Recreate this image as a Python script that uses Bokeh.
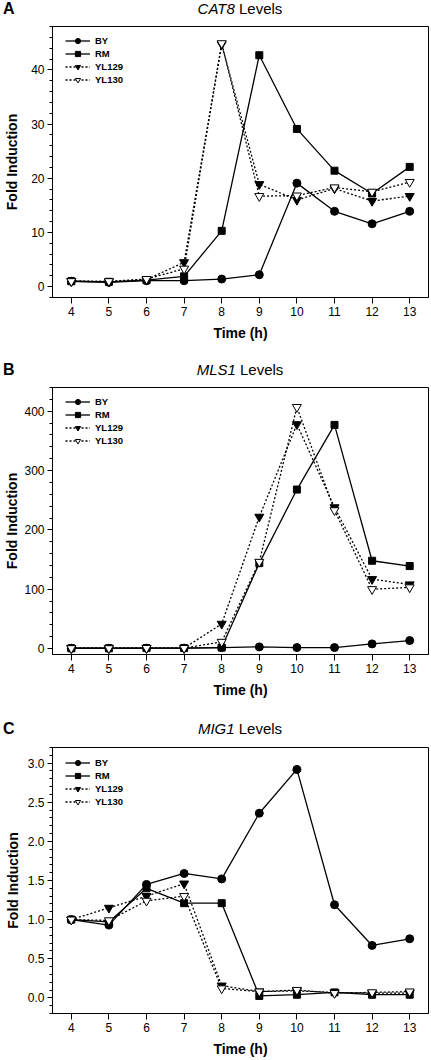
from bokeh.plotting import figure
from bokeh.models import Range1d, SingleIntervalTicker, FixedTicker, NumeralTickFormatter, Div
from bokeh.layouts import column
from bokeh.embed import file_html
from bokeh.resources import INLINE

# ---------------- data ----------------
hours = [4, 5, 6, 7, 8, 9, 10, 11, 12, 13]
strains = ["BY", "RM", "YL129", "YL130"]

cat8_by = [1.0, 0.8, 1.1, 1.1, 1.4, 2.2, 19.1, 13.9, 11.6, 13.9]
cat8_rm = [1.0, 0.9, 1.2, 1.9, 10.3, 42.7, 29.1, 21.4, 17.2, 22.1]
cat8_yl129 = [1.0, 0.9, 1.3, 4.5, 44.7, 18.9, 16.0, 18.1, 15.8, 16.7]
cat8_yl130 = [1.0, 1.0, 1.4, 3.3, 44.9, 16.7, 16.8, 18.3, 17.5, 19.3]

mls1_by = [0.5, 0.5, 0.8, 0.8, 1.7, 2.8, 1.7, 1.7, 7.9, 13.5]
mls1_rm = [0.5, 0.5, 0.8, 0.8, 1.7, 144, 268, 377, 148, 139]
mls1_yl129 = [0.5, 0.5, 0.8, 0.8, 41.6, 222, 378, 238, 117, 108]
mls1_yl130 = [0.5, 0.5, 0.8, 0.8, 11.2, 146, 407, 233, 100, 103]

mig1_by = [1.0, 0.93, 1.45, 1.59, 1.52, 2.36, 2.92, 1.19, 0.67, 0.755]
mig1_rm = [1.0, 0.97, 1.40, 1.21, 1.21, 0.025, 0.04, 0.07, 0.04, 0.04]
mig1_yl129 = [1.0, 1.15, 1.30, 1.46, 0.156, 0.08, 0.09, 0.07, 0.06, 0.06]
mig1_yl130 = [1.0, 0.99, 1.24, 1.30, 0.12, 0.08, 0.10, 0.06, 0.07, 0.08]

FONT = "Liberation Sans"
MBL = 52
MBR = 3
W = 431


def header(letter, gene, height):
    html = (
        f'<div style="position:relative;width:{W}px;height:{height}px;'
        f'font-family:\'{FONT}\';color:black;">'
        f'<span style="position:absolute;left:3px;top:0;line-height:{height}px;'
        f'font-weight:bold;font-size:16px;">{letter}</span>'
        f'<span style="position:absolute;left:{MBL}px;width:{W - MBL - MBR}px;top:0;'
        f'line-height:{height}px;text-align:center;font-size:15px;">'
        f'<i>{gene}</i> Levels</span></div>'
    )
    return Div(text=html, width=W, height=height, margin=(0, 0, 0, 0))


def panel(series, ymin, ymax, interval, fmt, height, bt, bb, ylab_standoff, legend_top):
    p = figure(width=W, height=height, x_range=Range1d(3.5, 13.5),
               y_range=Range1d(ymin, ymax), output_backend="svg",
               toolbar_location=None, min_border_left=MBL, min_border_right=MBR,
               min_border_top=bt, min_border_bottom=bb, margin=(0, 0, 0, 0))
    p.title.visible = False
    p.grid.visible = False
    p.outline_line_color = "black"
    p.outline_line_width = 1
    p.outline_line_alpha = 1
    p.background_fill_color = "white"
    p.border_fill_color = "white"

    styles = [
        dict(marker="circle", dash="solid", fill="black", size=8),
        dict(marker="square", dash="solid", fill="black", size=7),
        dict(marker="inverted_triangle", dash="2 2", fill="black", size=9),
        dict(marker="inverted_triangle", dash="2 2", fill="white", size=9),
    ]
    for name, ys, st in zip(strains, series, styles):
        p.line(hours, ys, line_color="black", line_width=1.3,
               line_dash=st["dash"], legend_label=name)
        p.scatter(hours, ys, marker=st["marker"], size=st["size"],
                  fill_color=st["fill"], line_color="black", line_width=1,
                  legend_label=name)

    xa = p.xaxis[0]
    xa.ticker = FixedTicker(ticks=hours)
    xa.minor_tick_line_color = None
    xa.major_tick_in = 0
    xa.major_tick_out = 6
    xa.major_label_standoff = 3
    xa.major_label_text_font = FONT
    xa.major_label_text_font_size = "12px"
    xa.major_label_text_color = "black"
    xa.axis_label = "Time (h)"
    xa.axis_label_text_font = FONT
    xa.axis_label_text_font_style = "bold"
    xa.axis_label_text_font_size = "14px"
    xa.axis_label_standoff = 6
    xa.axis_label_text_color = "black"

    ya = p.yaxis[0]
    ya.ticker = SingleIntervalTicker(interval=interval, num_minor_ticks=5)
    ya.formatter = NumeralTickFormatter(format=fmt)
    ya.major_tick_in = 0
    ya.major_tick_out = 5
    ya.minor_tick_in = 0
    ya.minor_tick_out = 3
    ya.major_label_standoff = 3
    ya.major_label_text_font = FONT
    ya.major_label_text_font_size = "12px"
    ya.major_label_text_color = "black"
    ya.axis_label = "Fold Induction"
    ya.axis_label_text_font = FONT
    ya.axis_label_text_font_style = "bold"
    ya.axis_label_text_font_size = "14px"
    ya.axis_label_standoff = ylab_standoff
    ya.axis_label_text_color = "black"

    frame_h = height - bt - bb
    lg = p.legend[0]
    lg.padding = 0
    lg.spacing = 0
    lg.glyph_width = 25
    lg.glyph_height = 13
    lg.label_height = 13
    lg.location = (13, frame_h - legend_top - 4 * 13)
    lg.border_line_color = None
    lg.background_fill_alpha = 0
    lg.label_standoff = 5
    lg.label_text_font = FONT
    lg.label_text_font_style = "bold"
    lg.label_text_font_size = "9.5px"
    lg.label_text_color = "black"
    return p


ha = header("A", "CAT8", 17)
pa = panel([cat8_by, cat8_rm, cat8_yl129, cat8_yl130], -2, 48, 10, "0", 343, 9, 63, 8, 8)
hb = header("B", "MLS1", 20)
pb = panel([mls1_by, mls1_rm, mls1_yl129, mls1_yl130], -10, 440, 100, "0", 340, 7, 66, 1, 8)
hc = header("C", "MIG1", 18)
pc = panel([mig1_by, mig1_rm, mig1_yl129, mig1_yl130], -0.2, 3.2, 0.5, "0.0", 321, 9, 44, 4, 11)

p = column(ha, pa, hb, pb, hc, pc, spacing=0)
open("out.html", "w").write(file_html(p, INLINE))
